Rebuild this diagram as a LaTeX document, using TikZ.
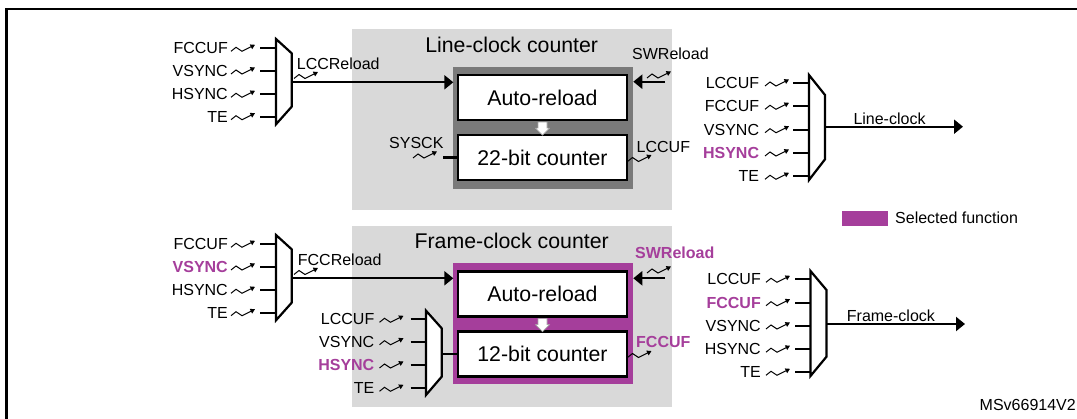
\documentclass[tikz,border=0pt]{standalone}
\usepackage{fontspec}
\setmainfont{Liberation Sans}
\usetikzlibrary{arrows.meta}
\definecolor{selmag}{RGB}{165,62,155}
\definecolor{lgrey}{RGB}{217,217,217}
\definecolor{dgrey}{RGB}{122,122,122}
\newcommand\selfn[1]{{\color{selmag}\bfseries #1}}
\tikzset{
  sig/.style={font=\fontsize{16}{19}\selectfont, inner sep=0pt},
  ttl/.style={font=\fontsize{21.3}{25}\selectfont, inner sep=0pt},
  regbox/.style={draw=black, line width=2.2pt, fill=white, minimum width=168.4pt, minimum height=45pt, inner sep=0pt, font=\fontsize{21.3}{25}\selectfont},
  muxshape/.style={draw=black, line width=2.2pt, fill=white, line join=miter},
  wire/.style={line width=2.2pt},
  arr/.style={wire, -{Triangle[length=9pt,width=14pt]}},
  blockarr/.style={fill=white, draw=black!35, line width=0.6pt},
  area/.style={inner sep=0pt, outer sep=0pt},
  wave/.pic={\draw[line width=1pt, -{Triangle[length=4.5pt,width=5pt]}] (0,2) -- (5,-2) -- (11,2) -- (24,-4.5);},
}
\newcommand\muxins[6]{%
  \foreach \yy/\lab [count=\i] in {#6}{%
    \node[sig, anchor=east] (#5l\i) at (#1,\yy) {\lab};
    \pic at (#2,\yy+1) {wave};
    \coordinate (#5s\i) at (#3,\yy);
    \coordinate (#5e\i) at (#4,\yy);
    \draw[wire] (#5s\i) -- (#5e\i);
  }%
}
\begin{document}
\begin{tikzpicture}[x=1pt,y=-1pt]
\useasboundingbox (0,0) rectangle (1077,419);
% outer frame
\draw[line width=2.4pt] (6.5,419) -- (6.5,9.3) -- (1077,9.3);

% grey areas
\node[area, fill=lgrey, minimum width=320pt, minimum height=181pt] (reg1) at (512,119.5) {};
\node[area, fill=lgrey, minimum width=320pt, minimum height=181pt] (reg2) at (512,316.5) {};
\node[ttl] (t1) at (511.7,45) {Line-clock counter};
\node[ttl] (t2) at (511.7,240.7) {Frame-clock counter};

% counter frames
\node[area, fill=dgrey, minimum width=180pt, minimum height=122.3pt] (dk1) at (543.3,127.85) {};
\node[area, fill=selmag, minimum width=180pt, minimum height=121.5pt] (dk2) at (543.3,323.75) {};

% register boxes
\node[regbox] (ar1) at (542.5,97.5) {Auto-reload};
\node[regbox] (ct1) at (542.5,157.5) {22-bit counter};
\node[regbox] (ar2) at (542.5,294) {Auto-reload};
\node[regbox] (ct2) at (542.5,354) {12-bit counter};

% small block arrows
\draw[blockarr] ([yshift=-1pt]ar1.south) ++(-4.5,0) -- ++(9,0) -- ++(0,6) -- ++(2.5,0) -- ++(-7,7) -- ++(-7,-7) -- ++(2.5,0) -- cycle;
\draw[blockarr] ([yshift=-1pt]ar2.south) ++(-4.5,0) -- ++(9,0) -- ++(0,6) -- ++(2.5,0) -- ++(-7,7) -- ++(-7,-7) -- ++(2.5,0) -- cycle;

% ---------- top: line-clock counter ----------
\muxins{228}{231}{260}{276}{Lm}{48.3/FCCUF, 71/VSYNC, 94.3/HSYNC, 116.7/TE}
\draw[muxshape] (276,39) -- (291.7,53.3) -- (291.7,106.7) -- (276,124.3) -- cycle;
\coordinate (Lmo) at (291.7,82.3);
\draw[arr] (Lmo) -- (Lmo -| dk1.west);
\node[sig, anchor=west] (lccr) at (296.7,63.3) {LCCReload};
\pic at (294,76.5) {wave};

\node[sig, anchor=west] (swr1) at (632,53.5) {SWReload};
\pic at (647,76) {wave};
\coordinate (sw1) at (665,81.7);
\draw[arr] (sw1) -- (sw1 -| dk1.east);

\node[sig] (sysck) at (416.3,143.3) {SYSCK};
\pic at (413,156) {wave};
\coordinate (sys1) at (443,157.5);
\draw[wire] (sys1) -- (ct1.west);

\pic at (627.5,159.5) {wave};
\node[sig, anchor=west] (lccuf1) at (636.5,146.5) {LCCUF};

\muxins{759.3}{765}{793.3}{809}{Rm}{83/LCCUF, 106.3/FCCUF, 129.7/VSYNC, 153/\selfn{HSYNC}, 176.3/TE}
\draw[muxshape] (809,75) -- (825,95) -- (825,159.3) -- (809,180) -- cycle;
\coordinate (Rmo) at (825,126.7);
\coordinate (lcout) at (963,126.7);
\draw[arr] (Rmo) -- (lcout);
\node[sig, anchor=base west] (lclab) at (853.3,124.5) {Line-clock};

% legend
\node[area, fill=selmag, minimum width=46pt, minimum height=14.7pt] (leg) at (864.7,218.3) {};
\node[sig, anchor=west] (legt) at (895,217.5) {Selected function};

% ---------- bottom: frame-clock counter ----------
\muxins{228}{231}{260}{276}{Fm}{244.3/FCCUF, 267/\selfn{VSYNC}, 290.3/HSYNC, 312.7/TE}
\draw[muxshape] (276,235) -- (291.7,249.3) -- (291.7,302.7) -- (276,320.3) -- cycle;
\coordinate (Fmo) at (291.7,278.3);
\draw[arr] (Fmo) -- (Fmo -| dk2.west);
\node[sig, anchor=west] (fccr) at (297.7,259.3) {FCCReload};
\pic at (294,272.5) {wave};

\node[sig, anchor=west] (swr2) at (635,252.8) {\selfn{SWReload}};
\pic at (647,271) {wave};
\coordinate (sw2) at (665,278.3);
\draw[arr] (sw2) -- (sw2 -| dk2.east);

\muxins{374.5}{379.5}{410.5}{426}{Cm}{319.3/LCCUF, 341.7/VSYNC, 365/\selfn{HSYNC}, 388.3/TE}
\draw[muxshape] (426,310.7) -- (441.7,328.3) -- (441.7,376.7) -- (426,395) -- cycle;
\coordinate (Cmo) at (441.7,354);
\draw[wire] (Cmo) -- (ct2.west);

\pic at (627.5,355.5) {wave};
\node[sig, anchor=west] (fccuf2) at (636,341.7) {\selfn{FCCUF}};

\muxins{761}{766}{795}{810.5}{Sm}{279.3/LCCUF, 302.7/\selfn{FCCUF}, 326/VSYNC, 349.2/HSYNC, 372.3/TE}
\draw[muxshape] (810.5,271) -- (826.5,290) -- (826.5,356.7) -- (810.5,376) -- cycle;
\coordinate (Smo) at (826.5,324);
\coordinate (fcout) at (965,324);
\draw[arr] (Smo) -- (fcout);
\node[sig, anchor=base west] (fclab) at (846.7,322) {Frame-clock};

\node[sig, anchor=east] (msv) at (1076,405) {MSv66914V2};
\end{tikzpicture}
\end{document}
